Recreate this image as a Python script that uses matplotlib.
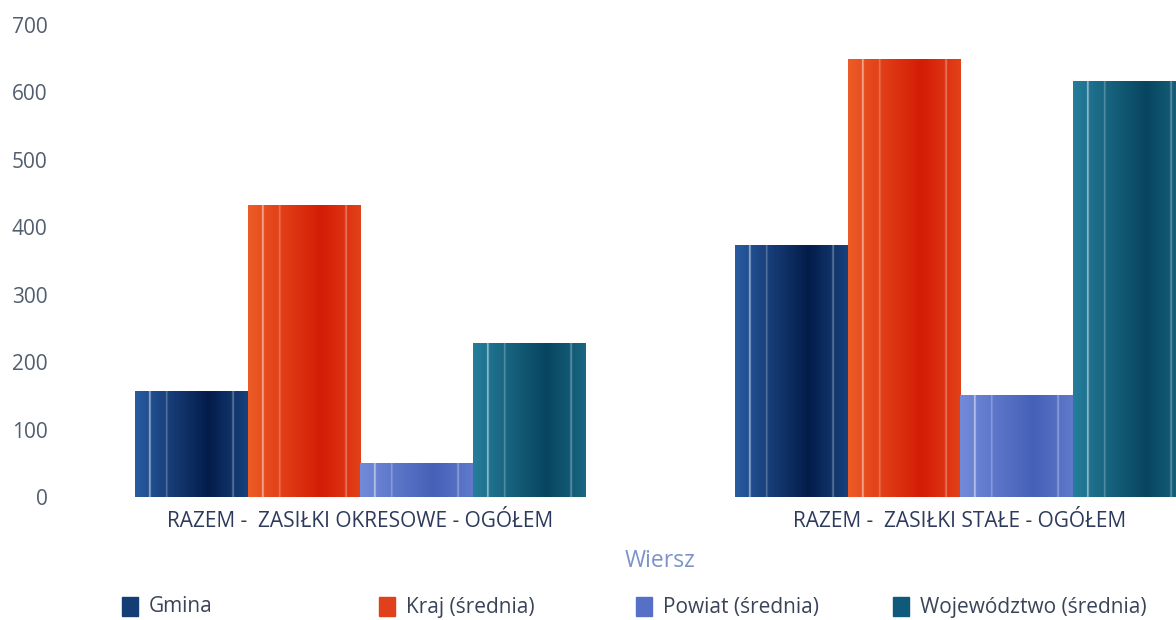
import matplotlib
matplotlib.use("Agg")
import matplotlib.pyplot as plt
import numpy as np
from matplotlib.colors import to_rgb
from matplotlib.patches import Rectangle

plt.rcParams["font.family"] = ["Open Sans", "DejaVu Sans"]

categories = ["RAZEM -  ZASIŁKI OKRESOWE - OGÓŁEM", "RAZEM -  ZASIŁKI STAŁE - OGÓŁEM"]
series = ["Gmina", "Kraj (średnia)", "Powiat (średnia)", "Województwo (średnia)"]
gmina = [158, 374]
kraj = [433, 649]
powiat = [50, 152]
wojewodztwo = [228, 617]
values = [gmina, kraj, powiat, wojewodztwo]

# (light, dark) end of the shaded bar fill, plus flat legend colour
shades = [("#2f67b0", "#031c4a", "#123d75"),
          ("#f0672c", "#d41c06", "#e0401a"),
          ("#7a92de", "#4560b8", "#5670c8"),
          ("#2a88a6", "#08455f", "#0f5a7a")]


def bar_profile(light, dark, n=240):
    t = np.linspace(0, 1, n)
    mix = np.where(t < 0.65, np.clip(0.15 + 1.3 * t, 0, 1), 1 - 0.5 * (t - 0.65) / 0.35)
    lo, hi = np.array(to_rgb(light)), np.array(to_rgb(dark))
    rgb = lo[None, :] * (1 - mix[:, None]) + hi[None, :] * mix[:, None]
    for pos, amp, wid in [(0.13, 0.75, 0.006), (0.28, 0.35, 0.006), (0.87, 0.4, 0.007)]:
        g = amp * np.exp(-((t - pos) / wid) ** 2)
        rgb = rgb + (1 - rgb) * g[:, None]
    return np.clip(rgb, 0, 1)[None, :, :]


fig = plt.figure(figsize=(11.76, 6.2), dpi=100)
ax = fig.add_axes([60 / 1176, 0.198, 1200 / 1176, 0.762])

x = np.arange(len(categories))
width = 0.1875
for i, (vals, (light, dark, _)) in enumerate(zip(values, shades)):
    bars = ax.bar(x + (i - 1.5) * width, vals, width, color=dark, linewidth=0)
    img = bar_profile(light, dark)
    for b in bars:
        x0, w, h = b.get_x(), b.get_width(), b.get_height()
        im = ax.imshow(img, extent=(x0, x0 + w, 0, h), aspect="auto",
                       interpolation="bilinear", zorder=2)
        im.set_clip_path(b)

ax.set_xlim(-0.5, 1.5)
ax.set_ylim(0, 700)
ax.set_yticks(range(0, 701, 100))
ax.set_xticks(x)
ax.set_xticklabels(categories, fontsize=15, color="#2d3a5c")
ax.tick_params(axis="x", length=0, pad=10)
ax.tick_params(axis="y", length=0, pad=9, labelsize=15, labelcolor="#525e6e")
for s in ax.spines.values():
    s.set_visible(False)
ax.set_xlabel("Wiersz", fontsize=16.5, color="#7d93c8", labelpad=12)

# legend, evenly spaced slots
for i, (name, (_, _, flat)) in enumerate(zip(series, shades)):
    x0 = 122 + i * 257
    fig.patches.append(Rectangle((x0 / 1176, (620 - 616) / 620), 16 / 1176, 19 / 620,
                                 transform=fig.transFigure, color=flat))
    fig.text((x0 + 27) / 1176, (620 - 607) / 620, name, fontsize=15,
             color="#3a4458", va="center", ha="left")

fig.savefig("out.png", dpi=100)
